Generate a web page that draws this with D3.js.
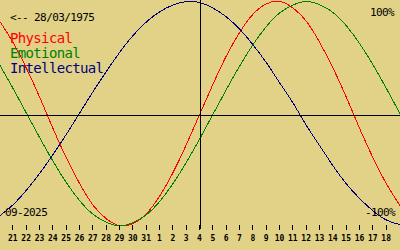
<!DOCTYPE html>
<html>
<head>
<meta charset="utf-8">
<script src="https://cdn.jsdelivr.net/npm/d3@7"></script>
<style>
  body { margin: 0; background: #e1d287; }
  svg { display: block; }
  .lbl { font-family: "DejaVu Sans Mono", monospace; fill: #000; }
</style>
</head>
<body>
<div id="chart"></div>
<script>
// day labels under the ticks (as printed on the chart)
var dayLabels = ["21","22","23","24","25","26","27","28","29","30","31",
                 "1","2","3","4","5","6","7","8","9","10","11","12","13","14","15","16","17","18"];

// curve values, one per day, from the day before the first tick to the day after the last
var physical = [0.82,0.63,0.40,0.14,-0.14,-0.40,-0.63,-0.82,-0.94,-1.00,-0.98,-0.89,-0.73,-0.52,-0.27,0.00,
                0.27,0.52,0.73,0.89,0.98,1.00,0.94,0.82,0.63,0.40,0.14,-0.14,-0.40,-0.63,-0.82];
var emotional = [0.43,0.22,0.00,-0.22,-0.43,-0.62,-0.78,-0.90,-0.97,-1.00,-0.97,-0.90,-0.78,-0.62,-0.43,-0.22,
                 0.00,0.22,0.43,0.62,0.78,0.90,0.97,1.00,0.97,0.90,0.78,0.62,0.43,0.22,0.00];
var intellectual = [-0.91,-0.81,-0.68,-0.53,-0.36,-0.18,0.01,0.20,0.38,0.55,0.70,0.82,0.91,0.97,1.00,0.99,
                    0.94,0.86,0.75,0.61,0.45,0.27,0.09,-0.11,-0.29,-0.47,-0.63,-0.76,-0.87,-0.95,-0.99];

var series = [
  {name: "Physical", values: physical, color: "#ff0000"},
  {name: "Emotional", values: emotional, color: "#008000"},
  {name: "Intellectual", values: intellectual, color: "#000080"}
];

var width = 400, height = 250, plotH = 230;

var x = d3.scaleLinear().domain([-1, 29]).range([0, width]);
var y = d3.scaleLinear().domain([-1, 1]).range([225.75, 1.5]);

var svg = d3.select("#chart").append("svg")
    .attr("width", width)
    .attr("height", height);

svg.append("rect")
    .attr("width", width)
    .attr("height", height)
    .attr("fill", "#e1d287");

var line = d3.line()
    .x(function(d, i) { return x(i - 1); })
    .y(function(d) { return y(d); })
    .curve(d3.curveNatural);

svg.selectAll(".curve")
    .data(series).enter()
    .append("path")
    .attr("class", "curve")
    .attr("d", function(d) { return line(d.values); })
    .attr("fill", "none")
    .attr("stroke", function(d) { return d.color; })
    .attr("stroke-width", 1)
    .style("shape-rendering", "crispEdges");

// centre cross
svg.append("line")
    .attr("x1", 0).attr("x2", width)
    .attr("y1", plotH / 2 + 0.5).attr("y2", plotH / 2 + 0.5)
    .attr("stroke", "#000")
    .style("shape-rendering", "crispEdges");
svg.append("line")
    .attr("x1", width / 2 + 0.5).attr("x2", width / 2 + 0.5)
    .attr("y1", 0).attr("y2", 229)
    .attr("stroke", "#000")
    .style("shape-rendering", "crispEdges");

// day axis
var xAxis = d3.axisBottom(x)
    .tickValues(d3.range(0, dayLabels.length))
    .tickFormat(function(i) { return dayLabels[i]; })
    .tickSize(5)
    .tickPadding(5);

var ax = svg.append("g")
    .attr("transform", "translate(-1,225)")
    .call(xAxis);
ax.select(".domain").remove();
ax.selectAll("line").attr("stroke", "#000").style("shape-rendering", "crispEdges");
ax.selectAll("text")
    .attr("fill", "#000")
    .style("font-family", "'DejaVu Sans Mono', monospace")
    .style("font-size", "8px")
    .style("font-weight", "bold");

// legend
svg.selectAll(".leg")
    .data(series).enter()
    .append("text")
    .attr("class", "lbl")
    .attr("x", 10)
    .attr("y", function(d, i) { return 43 + i * 14.8; })
    .style("font-size", "14px")
    .style("letter-spacing", "-0.65px")
    .style("fill", function(d) { return d.color; })
    .text(function(d) { return d.name; });

svg.append("text").attr("class", "lbl")
    .attr("x", 10).attr("y", 21)
    .style("font-size", "11px").style("letter-spacing", "-0.6px")
    .text("<-- 28/03/1975");

svg.append("text").attr("class", "lbl")
    .attr("x", 394).attr("y", 16)
    .attr("text-anchor", "end")
    .style("font-size", "11px").style("letter-spacing", "-0.6px")
    .text("100%");

svg.append("text").attr("class", "lbl")
    .attr("x", 395).attr("y", 216)
    .attr("text-anchor", "end")
    .style("font-size", "11px").style("letter-spacing", "-0.6px")
    .text("-100%");

svg.append("text").attr("class", "lbl")
    .attr("x", 5).attr("y", 216)
    .style("font-size", "11px").style("letter-spacing", "-0.6px")
    .text("09-2025");
</script>
</body>
</html>
